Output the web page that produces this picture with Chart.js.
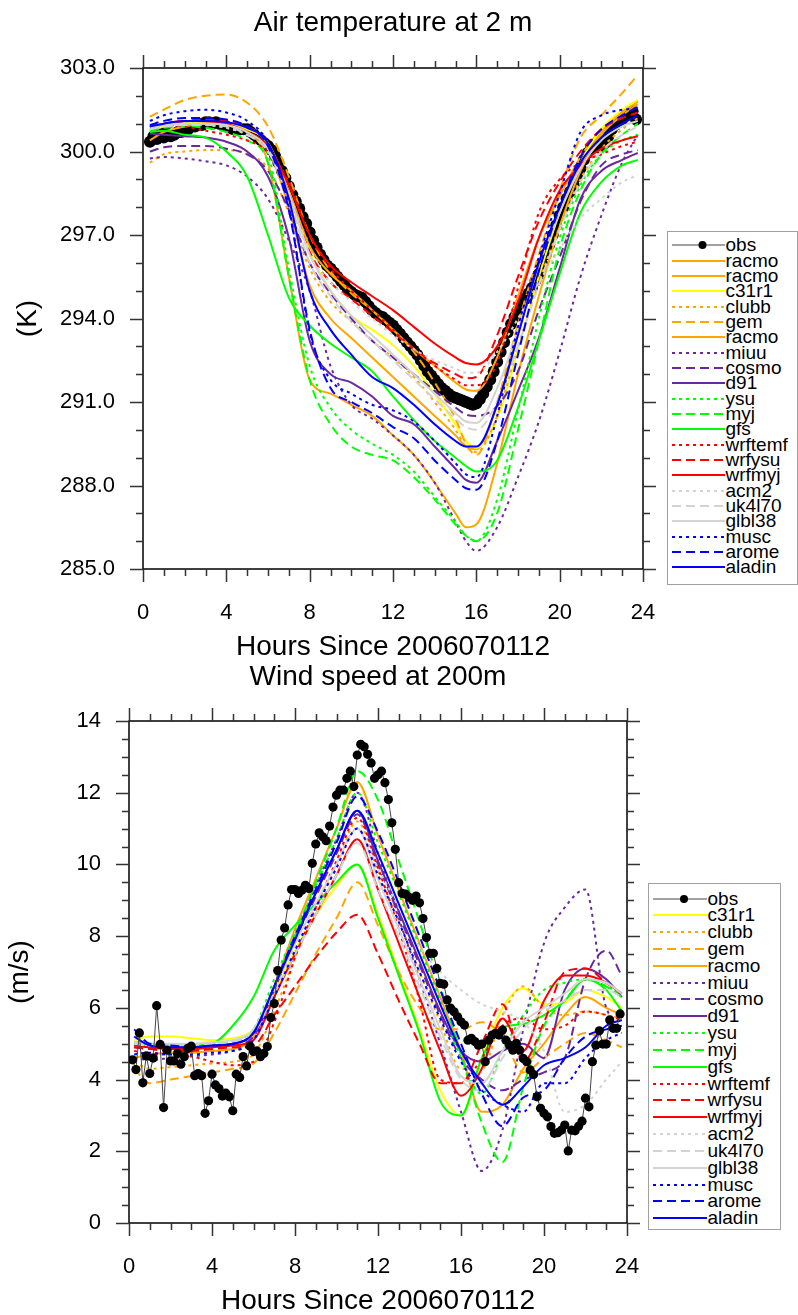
<!DOCTYPE html>
<html>
<head>
<meta charset="utf-8">
<script src="https://cdn.jsdelivr.net/npm/chart.js@4.4.1/dist/chart.umd.min.js"></script>
<style>
  html, body { margin: 0; padding: 0; background: #fff; overflow: hidden; }
  body { width: 798px; height: 1315px; position: relative; font-family: "Liberation Sans", Arial, sans-serif; }
  canvas { position: absolute; left: 0; }
  #tempChart { top: 0; }
  #windChart { top: 660px; }
  .legend { position: absolute; box-sizing: border-box; border: 1.5px solid #a0a0a0; background: #fff; z-index: 5; }
  .legend .row { position: absolute; height: 20px; display: flex; align-items: center; white-space: nowrap; }
  .legend .row span { font-size: 19px; line-height: 20px; color: #000; margin-left: 1px; }
</style>
</head>
<body>
<canvas id="tempChart" width="786" height="670"></canvas>
<canvas id="windChart" width="756" height="655"></canvas>
<div id="tempLegend" class="legend" style="left:667px; top:231px; width:131px; height:354px;"></div>
<div id="windLegend" class="legend" style="left:648px; top:883px; width:133px; height:347px;"></div>
<script>
// ---------- Air temperature at 2 m (K) ----------
// obs: every 10 minutes starting at 0:20
const tempObsStart = 2 / 6
const tempObs = [
  300.35, 300.55, 300.45, 300.7, 300.5, 300.65, 300.55, 300.6, 300.7, 300.7,
  300.8, 300.8, 300.9, 300.9, 301.0, 300.95, 301.05, 301.05, 301.0, 301.05,
  301.0, 300.95, 300.9, 300.85, 300.8, 300.8, 300.8, 300.8, 300.8, 300.7,
  300.6, 300.5, 300.4, 300.3, 300.2, 300.05, 299.85, 299.6, 299.3, 299.05,
  298.75, 298.45, 298.2, 297.95, 297.65, 297.4, 297.1, 296.8, 296.55, 296.3,
  296.1, 295.9, 295.8, 295.65, 295.5, 295.35, 295.2, 295.05, 294.95, 294.85,
  294.8, 294.75, 294.6, 294.45, 294.3, 294.2, 294.1, 294.05, 293.95, 293.85,
  293.75, 293.6, 293.45, 293.3, 293.15, 293.0, 292.85, 292.7, 292.5, 292.3,
  292.1, 291.95, 291.8, 291.65, 291.5, 291.4, 291.3, 291.2, 291.15, 291.1,
  291.05, 291.0, 290.95, 290.9, 290.95, 291.1, 291.3, 291.55, 291.8, 292.1,
  292.45, 292.8, 293.15, 293.5, 293.8, 294.05, 294.3, 294.5, 294.7, 294.9,
  295.1, 295.35, 295.6, 295.95, 296.3, 296.65, 297.0, 297.35, 297.7, 298.0,
  298.3, 298.55, 298.8, 299.1, 299.4, 299.7, 299.95, 300.1, 300.15, 300.15,
  300.2, 300.3, 300.55, 300.8, 300.95, 301.05, 301.15, 301.3, 301.35, 301.45,
  301.15
]

const tempHours = [0.33, 1, 2, 3, 4, 5, 6, 7, 8, 9, 10, 11, 12, 13, 14, 15, 15.5, 16, 17, 18, 19, 20, 21, 22, 23, 23.75]
const tempRacmo1 = [300.8, 300.95, 301.0, 301.05, 301.0, 300.8, 300.3, 298.6, 296.6, 295.6, 295.0, 294.3, 293.6, 292.9, 292.3, 291.7, 291.45, 291.4, 292.6, 294.8, 296.9, 298.4, 299.8, 300.8, 301.4, 301.8]
const tempRacmo2 = [300.7, 300.9, 301.0, 301.0, 300.95, 300.7, 300.1, 298.0, 295.2, 294.0, 293.3, 292.6, 291.9, 291.2, 290.5, 289.8, 289.4, 289.3, 290.9, 293.5, 295.9, 297.9, 299.5, 300.7, 301.4, 301.8]
const tempC31r1 = [300.8, 300.9, 301.0, 301.1, 301.0, 300.8, 300.3, 298.5, 296.4, 295.0, 294.1, 293.6, 293.05, 292.3, 291.3, 290.2, 289.6, 289.35, 290.4, 292.9, 295.5, 297.8, 299.6, 300.8, 301.5, 301.85]
const tempClubb = [299.6, 299.9, 300.0, 300.05, 300.05, 299.9, 299.4, 297.8, 295.8, 294.6, 293.9, 293.2, 292.6, 291.9, 291.0, 290.0, 289.4, 289.2, 290.5, 293.0, 295.3, 297.3, 299.0, 300.1, 300.8, 301.2]
const tempGem = [301.25, 301.5, 301.85, 302.0, 302.05, 301.75, 300.9, 299.1, 297.0, 295.7, 294.9, 294.3, 293.6, 292.8, 291.7, 290.4, 289.5, 289.1, 291.0, 293.8, 296.3, 298.6, 300.5, 301.3, 302.1, 302.75]
const tempRacmo3 = [300.4, 300.7, 300.9, 301.0, 300.95, 300.7, 299.6, 295.5, 291.8, 291.3, 290.9, 290.5, 289.8, 289.1, 288.1, 287.0, 286.5, 286.6, 288.8, 292.0, 294.8, 297.3, 299.3, 300.6, 301.3, 301.7]
const tempMiuu = [299.75, 299.8, 299.75, 299.65, 299.5, 299.1, 298.3, 296.8, 295.0, 292.3, 290.9, 290.4, 289.8, 289.1, 288.1, 286.7, 286.0, 285.65, 286.5, 288.3, 290.3, 292.8, 295.5, 297.7, 299.6, 300.6]
const tempCosmo = [300.0, 300.15, 300.2, 300.2, 300.1, 299.9, 299.3, 297.9, 296.0, 294.9, 294.0, 293.2, 292.6, 292.0, 291.4, 290.8, 290.55, 290.5, 290.85, 292.1, 294.3, 296.2, 298.2, 299.5, 299.9, 300.05]
const tempD91 = [300.65, 300.6, 300.55, 300.5, 300.35, 300.0, 299.1, 296.9, 293.2, 292.0, 291.7, 291.2, 290.5, 290.2, 289.4, 288.6, 288.2, 288.1, 289.6, 291.4, 293.3, 295.8, 298.3, 299.3, 299.7, 299.95]
const tempYsu = [300.85, 300.95, 301.0, 300.95, 300.85, 300.6, 299.9, 295.8, 292.3, 290.8, 290.0, 289.5, 289.1, 288.5, 287.6, 286.7, 286.2, 286.0, 287.5, 290.7, 294.0, 296.9, 298.8, 299.9, 300.4, 300.6]
const tempMyj = [300.75, 300.85, 300.9, 300.85, 300.7, 300.4, 299.6, 295.5, 291.8, 290.2, 289.4, 289.1, 288.9, 288.3, 287.5, 286.6, 286.2, 286.0, 287.0, 290.0, 293.2, 296.5, 298.6, 299.9, 300.6, 301.0]
const tempGfs = [300.7, 300.75, 300.6, 300.5, 300.0, 299.1, 297.0, 294.75, 293.75, 293.1, 292.6, 292.1, 291.2, 290.35, 289.6, 289.0, 288.7, 288.5, 288.9, 290.8, 293.2, 295.6, 297.8, 298.9, 299.5, 299.7]
const tempWrftemf = [300.9, 300.95, 300.9, 300.75, 300.6, 300.4, 300.0, 298.9, 297.0, 295.8, 295.0, 294.3, 293.6, 292.9, 292.3, 291.8, 291.6, 291.6, 292.4, 295.1, 297.8, 299.0, 299.6, 299.9, 300.2, 300.35]
const tempWrfysu = [300.9, 301.0, 301.1, 301.15, 301.1, 300.9, 300.3, 298.5, 296.4, 295.3, 294.7, 294.1, 293.5, 292.9, 292.4, 292.0, 291.85, 291.9, 293.4, 295.5, 297.5, 298.9, 300.0, 300.8, 301.2, 301.4]
const tempWrfmyj = [300.9, 301.0, 301.1, 301.1, 301.0, 300.7, 300.2, 298.8, 297.0, 295.9, 295.3, 294.8, 294.3, 293.7, 293.1, 292.6, 292.4, 292.35, 293.0, 294.6, 296.9, 298.6, 299.5, 300.1, 300.4, 300.55]
const tempAcm2 = [300.8, 300.9, 300.95, 300.95, 300.85, 300.6, 300.0, 298.4, 296.3, 295.3, 294.6, 294.0, 293.4, 292.9, 292.5, 292.2, 292.05, 292.05, 292.8, 294.0, 295.3, 296.5, 297.6, 298.3, 298.9, 299.15]
const tempUk4l70 = [300.8, 300.9, 300.95, 300.95, 300.9, 300.6, 300.0, 298.3, 296.0, 294.8, 293.9, 293.2, 292.5, 291.8, 291.1, 290.4, 290.1, 290.0, 291.0, 293.0, 295.2, 297.2, 298.9, 300.0, 300.6, 300.9]
const tempGlbl38 = [300.85, 300.95, 301.0, 301.0, 300.95, 300.7, 300.1, 298.5, 296.3, 295.0, 294.1, 293.4, 292.7, 292.0, 291.3, 290.6, 290.3, 290.25, 291.5, 293.6, 295.9, 297.8, 299.4, 300.4, 300.9, 301.1]
const tempMusc = [301.1, 301.3, 301.45, 301.5, 301.4, 301.1, 300.3, 298.0, 293.5, 291.8, 291.3, 290.9, 290.7, 290.3, 289.6, 288.8, 288.4, 288.3, 290.5, 293.7, 296.2, 298.5, 300.7, 301.3, 301.5, 301.55]
const tempArome = [300.95, 301.1, 301.2, 301.2, 301.15, 300.9, 300.2, 297.9, 293.6, 291.5, 291.0, 290.6, 290.1, 289.7, 288.9, 288.2, 287.9, 287.85, 289.6, 292.7, 295.7, 298.0, 299.8, 300.8, 301.3, 301.6]
const tempAladin = [300.9, 301.0, 301.1, 301.1, 301.05, 300.85, 300.3, 298.3, 295.0, 293.6, 292.7, 291.9, 291.5, 290.9, 290.2, 289.6, 289.4, 289.4, 290.9, 293.4, 296.0, 298.0, 299.6, 300.5, 301.0, 301.3]

// ---------- Wind speed at 200 m (m/s) ----------
// obs: every 10 minutes starting at 0:10
const windObsStart = 1 / 6
const windObs = [
  4.55, 4.28, 5.3, 3.91, 4.66, 4.17, 4.6, 6.06, 4.98, 3.22,
  4.82, 4.52, 4.52, 4.73, 4.43, 4.64, 4.87, 4.93, 4.11, 4.17,
  4.11, 3.06, 3.41, 4.15, 3.85, 3.75, 3.54, 3.62, 3.52, 3.13,
  4.15, 4.06, 4.64, 4.38, 4.93, 4.78, 4.8, 4.64, 4.73, 4.92,
  5.73, 6.12, 7.04, 7.89, 8.23, 8.87, 9.3, 9.3, 9.19, 9.28,
  9.42, 9.33, 10.03, 10.57, 10.88, 10.77, 10.66, 11.07, 11.6, 11.93,
  12.07, 12.07, 12.4, 12.6, 12.17, 13.05, 13.35, 13.28, 13.07, 12.83,
  12.4, 12.5, 12.6, 12.28, 11.81, 11.16, 10.42, 9.49, 9.19, 9.17,
  9.08, 9.0, 9.12, 8.93, 8.49, 7.96, 7.52, 7.52, 7.1, 6.68,
  6.66, 6.22, 5.99, 5.89, 5.75, 5.61, 5.52, 5.1, 5.15, 5.06,
  4.96, 4.99, 4.5, 5.1, 5.24, 5.29, 5.24, 5.38, 5.1, 4.96,
  4.82, 5.01, 4.82, 4.59, 4.5, 4.27, 4.14, 3.52, 3.2, 3.06,
  2.96, 2.69, 2.5, 2.52, 2.59, 2.73, 2.01, 2.59, 2.57, 2.7,
  2.84, 3.48, 3.24, 4.5, 4.96, 5.36, 4.99, 4.99, 5.66, 5.43,
  5.43, 5.83
]

const windHours = [0.25, 1, 2, 3, 4, 5, 6, 7, 8, 9, 10, 11, 12, 13, 14, 15, 16, 17, 18, 19, 20, 21, 22, 23, 23.75]
const windC31r1 = [5.1, 5.2, 5.2, 5.15, 5.1, 5.15, 5.4, 6.4, 7.6, 8.6, 9.4, 10.0, 8.6, 7.0, 5.4, 3.7, 3.0, 4.6, 6.0, 6.55, 6.1, 6.15, 6.5, 6.3, 6.0]
const windClubb = [4.5, 4.3, 4.35, 4.4, 4.45, 4.5, 4.7, 5.9, 7.4, 8.7, 10.0, 11.2, 9.8, 8.4, 7.0, 5.6, 4.3, 4.3, 5.8, 6.6, 6.0, 5.8, 5.9, 5.8, 5.7]
const windGem = [4.3, 3.9, 4.0, 4.1, 4.2, 4.3, 4.45, 5.3, 6.4, 7.5, 8.5, 9.5, 8.3, 7.0, 6.0, 5.4, 5.4, 5.6, 5.2, 4.2, 4.6, 5.0, 5.3, 5.1, 4.9]
const windRacmo = [4.6, 4.7, 4.75, 4.75, 4.8, 4.85, 5.2, 6.6, 8.2, 9.6, 11.0, 12.3, 10.8, 9.3, 7.8, 6.3, 4.8, 3.1, 3.3, 4.3, 5.0, 5.8, 6.3, 6.0, 5.8]
const windMiuu = [4.6, 4.55, 4.6, 4.65, 4.7, 4.8, 5.1, 6.5, 8.0, 9.4, 10.7, 12.0, 10.3, 8.5, 6.8, 5.0, 3.1, 1.45, 2.6, 5.4, 7.8, 8.8, 9.3, 6.0, 5.6]
const windCosmo = [4.9, 4.85, 4.85, 4.85, 4.9, 4.95, 5.2, 6.5, 7.9, 9.1, 10.3, 11.4, 10.0, 8.6, 7.2, 5.8, 4.6, 4.0, 3.7, 4.0, 4.2, 4.6, 6.8, 7.6, 6.9]
const windD91 = [5.0, 4.9, 4.9, 4.9, 4.95, 5.0, 5.3, 6.6, 8.0, 9.2, 10.4, 11.5, 10.1, 8.7, 7.3, 5.9, 4.8, 4.5, 4.8, 5.0, 4.6, 6.5, 7.1, 6.8, 6.3]
const windYsu = [5.0, 4.95, 4.95, 4.95, 5.0, 5.05, 5.4, 6.8, 8.1, 9.4, 10.7, 12.0, 10.6, 9.2, 7.7, 6.2, 4.6, 3.6, 4.8, 5.8, 6.5, 6.7, 6.8, 6.6, 6.4]
const windMyj = [5.05, 5.0, 4.95, 4.95, 5.0, 5.05, 5.3, 6.6, 8.0, 9.5, 11.0, 12.6, 11.8, 10.1, 8.4, 6.6, 4.7, 2.8, 1.7, 3.8, 5.5, 6.2, 6.8, 6.6, 6.3]
const windGfs = [4.95, 5.0, 4.95, 4.95, 5.0, 5.5, 6.3, 7.6, 8.3, 8.9, 9.5, 10.0, 8.5, 6.9, 5.3, 3.4, 3.0, 4.6, 5.45, 5.55, 5.8, 6.2, 6.8, 6.5, 5.9]
const windWrftemf = [4.8, 4.7, 4.7, 4.65, 4.5, 4.4, 4.5, 5.6, 7.4, 8.8, 10.1, 11.3, 9.9, 8.2, 6.2, 4.0, 3.9, 4.6, 5.5, 5.7, 5.4, 5.5, 5.9, 5.8, 5.66]
const windWrfysu = [4.9, 4.85, 4.8, 4.8, 4.85, 4.9, 4.95, 5.8, 6.6, 7.4, 8.1, 8.6, 7.5, 6.2, 5.0, 3.9, 3.9, 5.0, 6.1, 4.5, 5.6, 7.0, 7.1, 6.7, 6.4]
const windWrfmyj = [4.95, 4.9, 4.85, 4.85, 4.9, 4.95, 5.1, 6.3, 7.5, 8.6, 9.7, 10.7, 9.3, 7.8, 6.3, 4.8, 3.55, 4.3, 5.7, 4.8, 6.2, 6.9, 6.9, 6.7, 6.4]
const windAcm2 = [5.0, 4.95, 4.95, 5.0, 5.0, 5.05, 5.3, 6.5, 7.7, 8.9, 10.0, 11.0, 9.9, 8.8, 7.7, 7.0, 6.5, 6.1, 5.9, 5.6, 4.8, 3.1, 3.3, 4.0, 4.5]
const windUk4l70 = [5.0, 4.95, 4.95, 4.95, 5.0, 5.05, 5.3, 6.4, 7.5, 8.6, 9.7, 10.6, 9.3, 8.0, 6.6, 5.2, 4.0, 3.7, 4.6, 5.4, 5.9, 6.2, 6.5, 6.5, 6.3]
const windGlbl38 = [5.05, 5.0, 5.0, 5.0, 5.05, 5.1, 5.4, 6.6, 7.8, 8.9, 10.0, 11.0, 9.6, 8.2, 6.8, 5.4, 4.1, 3.9, 4.8, 5.6, 6.0, 6.4, 6.8, 6.7, 6.4]
const windMusc = [4.7, 4.75, 4.7, 4.7, 4.75, 4.8, 5.1, 6.3, 7.6, 8.8, 9.9, 11.0, 9.7, 8.4, 7.0, 5.7, 4.5, 3.7, 3.3, 3.1, 3.9, 3.9, 4.6, 5.1, 5.3]
const windArome = [5.4, 5.0, 4.95, 4.9, 4.95, 5.0, 5.3, 6.6, 8.0, 9.3, 10.6, 11.9, 10.9, 9.5, 8.0, 6.5, 5.0, 3.6, 2.7, 3.5, 3.7, 4.6, 5.2, 5.4, 5.5]
const windAladin = [5.2, 4.95, 4.9, 4.9, 4.95, 5.0, 5.3, 6.6, 7.9, 9.2, 10.4, 11.5, 10.3, 8.9, 7.5, 6.1, 4.8, 3.9, 3.3, 3.8, 4.4, 4.6, 4.9, 5.5, 5.66]

// ---------- styles ----------
const ORANGE = '#FFA500', YELLOW = '#FFFF00', PURPLE = '#6A28A0', GREEN = '#00FF00'
const RED = '#FF0000', GRAY = '#D3D3D3', BLUE = '#0000FF'
const DASH = { solid: [], dot: [3, 4], dash: [9, 5] }
const STYLE = {
  racmo: [ORANGE, 'solid'], c31r1: [YELLOW, 'solid'], clubb: [ORANGE, 'dot'], gem: [ORANGE, 'dash'],
  miuu: [PURPLE, 'dot'], cosmo: [PURPLE, 'dash'], d91: [PURPLE, 'solid'],
  ysu: [GREEN, 'dot'], myj: [GREEN, 'dash'], gfs: [GREEN, 'solid'],
  wrftemf: [RED, 'dot'], wrfysu: [RED, 'dash'], wrfmyj: [RED, 'solid'],
  acm2: [GRAY, 'dot'], uk4l70: [GRAY, 'dash'], glbl38: [GRAY, 'solid'],
  musc: [BLUE, 'dot'], arome: [BLUE, 'dash'], aladin: [BLUE, 'solid']
}

const tempModels = [
  ['racmo', tempRacmo1], ['racmo', tempRacmo2], ['c31r1', tempC31r1], ['clubb', tempClubb],
  ['gem', tempGem], ['racmo', tempRacmo3], ['miuu', tempMiuu], ['cosmo', tempCosmo],
  ['d91', tempD91], ['ysu', tempYsu], ['myj', tempMyj], ['gfs', tempGfs],
  ['wrftemf', tempWrftemf], ['wrfysu', tempWrfysu], ['wrfmyj', tempWrfmyj],
  ['acm2', tempAcm2], ['uk4l70', tempUk4l70], ['glbl38', tempGlbl38],
  ['musc', tempMusc], ['arome', tempArome], ['aladin', tempAladin]
]
const windModels = [
  ['c31r1', windC31r1], ['clubb', windClubb], ['gem', windGem], ['racmo', windRacmo],
  ['miuu', windMiuu], ['cosmo', windCosmo], ['d91', windD91], ['ysu', windYsu],
  ['myj', windMyj], ['gfs', windGfs], ['wrftemf', windWrftemf], ['wrfysu', windWrfysu],
  ['wrfmyj', windWrfmyj], ['acm2', windAcm2], ['uk4l70', windUk4l70], ['glbl38', windGlbl38],
  ['musc', windMusc], ['arome', windArome], ['aladin', windAladin]
]

Chart.defaults.font.family = '"Liberation Sans", Arial, sans-serif'
Chart.defaults.color = '#000'

function pairs (hours, values) {
  return values.map((v, i) => ({ x: hours[i], y: v }))
}
function obsPairs (start, values) {
  return values.map((v, i) => ({ x: start + i / 6, y: v }))
}

function modelDatasets (models, hours) {
  const n = models.length
  return models.map(([name, vals], i) => ({
    label: name,
    data: pairs(hours, vals),
    borderColor: STYLE[name][0],
    borderDash: DASH[STYLE[name][1]],
    borderWidth: 2,
    pointRadius: 0,
    cubicInterpolationMode: 'monotone',
    order: n - i + 1
  }))
}

// frame plus NCL-style outward major/minor ticks on all four sides
const frameTicks = {
  id: 'frameTicks',
  afterDatasetsDraw (chart, args, opts) {
    const { ctx, chartArea: a } = chart
    const x = chart.scales.x, y = chart.scales.y
    ctx.save()
    ctx.strokeStyle = '#000'
    ctx.lineWidth = 1.5
    ctx.strokeRect(a.left, a.top, a.right - a.left, a.bottom - a.top)
    ctx.beginPath()
    const nx = Math.round((x.max - x.min) / opts.xMinor)
    for (let i = 0; i <= nx; i++) {
      const v = x.min + i * opts.xMinor
      const len = i % Math.round(opts.xMajor / opts.xMinor) === 0 ? 13 : 7
      const px = Math.round(x.getPixelForValue(v)) + 0.5
      ctx.moveTo(px, a.bottom); ctx.lineTo(px, a.bottom + len)
      ctx.moveTo(px, a.top); ctx.lineTo(px, a.top - len)
    }
    const ny = Math.round((y.max - y.min) / opts.yMinor)
    for (let i = 0; i <= ny; i++) {
      const v = y.min + i * opts.yMinor
      const len = i % Math.round(opts.yMajor / opts.yMinor) === 0 ? 13 : 7
      const py = Math.round(y.getPixelForValue(v)) + 0.5
      ctx.moveTo(a.left, py); ctx.lineTo(a.left - len, py)
      ctx.moveTo(a.right, py); ctx.lineTo(a.right + len, py)
    }
    ctx.strokeStyle = '#333'
    ctx.stroke()
    ctx.restore()
  }
}

function makeChart (id, cfg) {
  return new Chart(document.getElementById(id), {
    type: 'line',
    data: { datasets: cfg.datasets },
    plugins: [frameTicks],
    options: {
      responsive: false,
      animation: false,
      events: [],
      plugins: {
        legend: { display: false },
        tooltip: { enabled: false },
        title: {
          display: true,
          text: cfg.title,
          font: { size: 28, weight: 'normal' },
          padding: cfg.titlePad
        },
        frameTicks: cfg.ticks
      },
      scales: {
        x: {
          type: 'linear', min: 0, max: 24,
          grid: { display: false, drawTicks: false },
          border: { display: false },
          ticks: { stepSize: 4, font: { size: 22 }, padding: 31, maxRotation: 0 },
          title: {
            display: true, text: 'Hours Since 2006070112',
            font: { size: 28, lineHeight: 1 }, padding: { top: 0, bottom: cfg.xTitleBottom }
          },
          afterFit: s => { s.height = cfg.xHeight }
        },
        y: {
          type: 'linear', position: 'left', min: cfg.yMin, max: cfg.yMax,
          grid: { display: false, drawTicks: false },
          border: { display: false },
          ticks: { stepSize: cfg.yStep, font: { size: 22 }, padding: 28, callback: cfg.yFmt },
          title: {
            display: true, text: cfg.yTitle,
            font: { size: 28, lineHeight: 1 }, padding: { top: cfg.yTitleTop, bottom: 0 }
          },
          afterFit: s => { s.width = cfg.side }
        },
        yr: {
          type: 'linear', position: 'right', display: true,
          grid: { display: false, drawTicks: false },
          border: { display: false },
          ticks: { display: false },
          afterFit: s => { s.width = cfg.side }
        }
      }
    }
  })
}

// top panel: obs underneath the models
const tempDatasets = [{
  label: 'obs',
  data: obsPairs(tempObsStart, tempObs),
  borderColor: '#444', borderWidth: 1,
  pointRadius: 6, pointBackgroundColor: '#000', pointBorderWidth: 0,
  tension: 0, order: 100
}].concat(modelDatasets(tempModels, tempHours))

makeChart('tempChart', {
  datasets: tempDatasets,
  title: 'Air temperature at 2 m',
  titlePad: { top: 6.5, bottom: 27.9 },
  xHeight: 101, xTitleBottom: 9,
  yMin: 285, yMax: 303, yStep: 3, yFmt: v => v.toFixed(1),
  yTitle: '(K)', yTitleTop: 14, side: 143,
  ticks: { xMinor: 1, xMajor: 4, yMinor: 1, yMajor: 3 }
})

// bottom panel: obs on top
const windDatasets = [{
  label: 'obs',
  data: obsPairs(windObsStart, windObs),
  borderColor: '#444', borderWidth: 1,
  pointRadius: 4.6, pointBackgroundColor: '#000', pointBorderWidth: 0,
  tension: 0, order: 0
}].concat(modelDatasets(windModels, windHours))

makeChart('windChart', {
  datasets: windDatasets,
  title: 'Wind speed at 200m',
  titlePad: { top: 0, bottom: 27.4 },
  xHeight: 92, xTitleBottom: 0,
  yMin: 0, yMax: 14, yStep: 2, yFmt: v => String(v),
  yTitle: '(m/s)', yTitleTop: 6, side: 129,
  ticks: { xMinor: 1, xMajor: 4, yMinor: 0.5, yMajor: 2 }
})

// legends (NCL style boxes)
function buildLegend (id, names, first, step, lineLeft, lineWidth) {
  const box = document.getElementById(id)
  names.forEach((name, i) => {
    const row = document.createElement('div')
    row.className = 'row'
    row.style.left = lineLeft + 'px'
    row.style.top = (first + i * step - 10) + 'px'
    let svg
    if (name === 'obs') {
      svg = `<svg width="${lineWidth}" height="20"><line x1="0" y1="10" x2="${lineWidth}" y2="10" stroke="#444" stroke-width="1"/>` +
        `<circle cx="${lineWidth / 2 + 4}" cy="10" r="4" fill="#000"/></svg>`
    } else {
      const [color, dash] = STYLE[name]
      svg = `<svg width="${lineWidth}" height="20"><line x1="0" y1="10" x2="${lineWidth}" y2="10" stroke="${color}" stroke-width="2" stroke-dasharray="${DASH[dash].join(' ')}"/></svg>`
    }
    row.innerHTML = svg + `<span>${name}</span>`
    box.appendChild(row)
  })
}

buildLegend('tempLegend', ['obs'].concat(tempModels.map(m => m[0])), 13.2, 15.34, 3.5, 53)
buildLegend('windLegend', ['obs'].concat(windModels.map(m => m[0])), 14.5, 16.83, 3.5, 54)
</script>
</body>
</html>
